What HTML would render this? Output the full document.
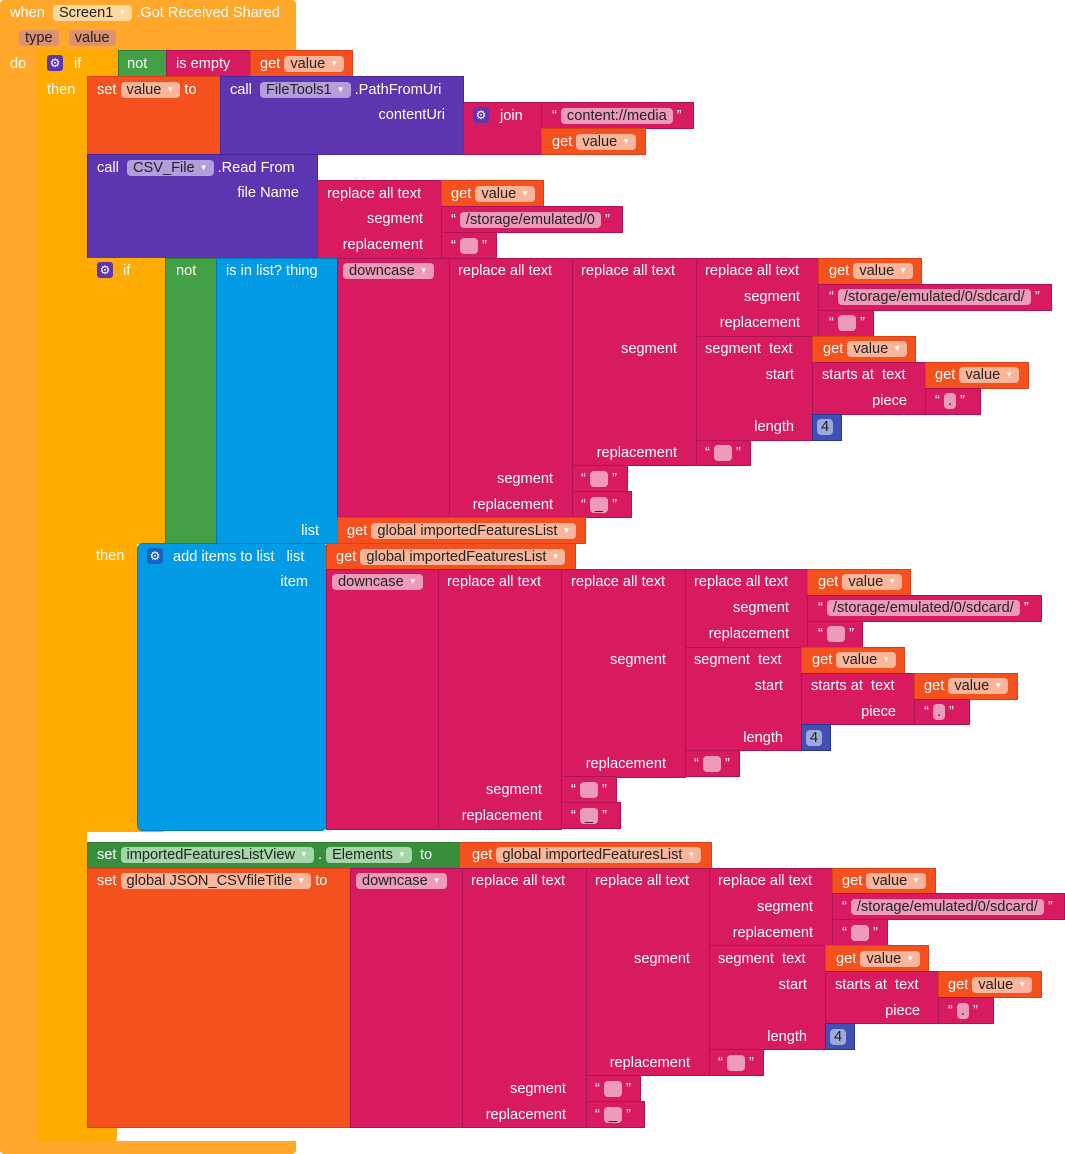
<!DOCTYPE html>
<html><head><meta charset="utf-8"><style>
body{margin:0;width:1065px;height:1154px;background:#fff;position:relative;overflow:hidden;font-family:"Liberation Sans",sans-serif}
.b{position:absolute;box-sizing:border-box}
.e{background:#FFA82B}.i{background:#FFAB00}.s{background:#F4511E;border:1px solid #D84315}
.p{background:#5E35B1;border:1px solid #4527A0}.m{background:#D81B60;border:1px solid #AD1457}
.g{background:#43A047;border:1px solid #2E7D32}.l{background:#039BE5;border:1px solid #0277BD}.n{background:#3F51B5;border:1px solid #283593}
.t{position:absolute;color:#fff;font-size:14.6px;line-height:16px;white-space:nowrap}
.r{text-align:right}
.f{display:inline-block;border-radius:4px;padding:0 6px;color:#222;line-height:16px}
.fs{background:#FBB59B}.fp{background:#B39DDB}.fm{background:#EE9BBA}.fg{background:#A5D6A7}.fe{background:#DC9173}.fn{background:#9FA8DA}
.gear{position:absolute;width:16px;height:16px;border-radius:3px;background:#5E35B1;color:#fff;font-size:12px;line-height:16px;text-align:center}
.dd{font-size:8px;color:#fff;margin-left:5px;vertical-align:2px}
</style></head><body>
<!-- event -->
<div class="b e" style="left:0;top:0;width:296px;height:52px;border-radius:4px 4px 0 0"></div>
<div class="b e" style="left:0;top:50px;width:38px;height:1100px"></div>
<div class="b e" style="left:0;top:1141px;width:296px;height:13px;border-radius:0 0 4px 4px"></div>
<div class="t" style="left:10px;top:5px">when <span class="f" style="background:#FFD8A0;margin-left:4px">Screen1<span class="dd">▼</span></span> .Got Received Shared</div>
<div class="t" style="left:19px;top:30px"><span class="f fe">type</span> <span class="f fe" style="margin-left:6px">value</span></div>
<div class="t" style="left:10px;top:56px">do</div>
<!-- if -->
<div class="b i" style="left:37px;top:50px;width:82px;height:27px;border-radius:4px 0 0 0"></div>
<div class="b i" style="left:37px;top:76px;width:50px;height:1054px"></div>
<div class="b i" style="left:37px;top:1128px;width:80px;height:14px;border-radius:0 0 4px 4px"></div>
<div class="gear" style="left:47px;top:55px">⚙</div>
<div class="t" style="left:74px;top:56px">if</div>
<div class="t" style="left:47px;top:82px">then</div>
<div class="b g" style="left:118px;top:50px;width:49px;height:27px"></div>
<div class="t" style="left:127px;top:56px">not</div>
<div class="b m" style="left:166px;top:50px;width:85px;height:27px"></div>
<div class="t" style="left:176px;top:56px">is empty</div>
<div class="b s" style="left:250px;top:50px;width:103px;height:27px"></div>
<div class="t" style="left:260px;top:56px">get <span class="f fs">value<span class="dd">▼</span></span></div>
<!-- set value -->
<div class="b s" style="left:87px;top:76px;width:134px;height:79px"></div>
<div class="t" style="left:97px;top:82px">set <span class="f fs">value<span class="dd">▼</span></span> to</div>
<div class="b p" style="left:220px;top:76px;width:244px;height:79px"></div>
<div class="t" style="left:230px;top:82px">call <span class="f fp" style="margin-left:4px">FileTools1<span class="dd">▼</span></span> .PathFromUri</div>
<div class="t r" style="right:620px;top:107px">contentUri</div>
<div class="b m" style="left:463px;top:102px;width:79px;height:53px"></div>
<div class="gear" style="left:473px;top:107px">⚙</div>
<div class="t" style="left:500px;top:108px">join</div>
<div class="b m" style="left:541px;top:102px;width:153px;height:27px"></div>
<div class="t" style="left:552px;top:108px">“ <span class="f fm">content://media</span> ”</div>
<div class="b s" style="left:541px;top:128px;width:105px;height:27px"></div>
<div class="t" style="left:552px;top:134px">get <span class="f fs">value<span class="dd">▼</span></span></div>
<!-- CSV read -->
<div class="b p" style="left:87px;top:154px;width:231px;height:105px"></div>
<div class="t" style="left:97px;top:160px">call <span class="f fp" style="margin-left:4px">CSV_File<span class="dd">▼</span></span> .Read From</div>
<div class="t r" style="right:766px;top:185px">file Name</div>
<div class="b m" style="left:317px;top:180px;width:125px;height:79px"></div>
<div class="t" style="left:327px;top:186px">replace all text</div>
<div class="t r" style="right:642px;top:211px">segment</div>
<div class="t r" style="right:642px;top:237px">replacement</div>
<div class="b s" style="left:441px;top:180px;width:103px;height:27px"></div>
<div class="t" style="left:451px;top:186px">get <span class="f fs">value<span class="dd">▼</span></span></div>
<div class="b m" style="left:441px;top:206px;width:182px;height:27px"></div>
<div class="t" style="left:451px;top:212px">“ <span class="f fm">/storage/emulated/0</span> ”</div>
<div class="b m" style="left:441px;top:232px;width:56px;height:27px"></div>
<div class="t" style="left:451px;top:238px">“ <span class="f fm" style="padding:0 7px">&nbsp;</span> ”</div>
<!-- inner if -->
<div class="b i" style="left:87px;top:258px;width:79px;height:286px"></div>
<div class="b i" style="left:87px;top:284px;width:50px;height:548px"></div>
<div class="b i" style="left:87px;top:820px;width:79px;height:12px;border-radius:0 0 4px 4px"></div>
<div class="gear" style="left:97px;top:262px">⚙</div>
<div class="t" style="left:123px;top:263px">if</div>
<div class="t" style="left:96px;top:548px">then</div>
<div class="b g" style="left:165px;top:258px;width:52px;height:286px"></div>
<div class="t" style="left:176px;top:263px">not</div>
<div class="b l" style="left:216px;top:258px;width:122px;height:286px"></div>
<div class="t" style="left:226px;top:263px">is in list? thing</div>
<div class="t r" style="right:746px;top:523px">list</div>
<div class="b m" style="left:337px;top:258px;width:113px;height:260px"></div>
<div class="t" style="left:343px;top:263px"><span class="f fm">downcase<span class="dd">▼</span></span></div>
<div class="b m" style="left:449px;top:258px;width:124px;height:260px"></div>
<div class="t" style="left:458px;top:263px">replace all text</div>
<div class="t r" style="right:512px;top:471px">segment</div>
<div class="t r" style="right:512px;top:497px">replacement</div>
<div class="b m" style="left:572px;top:258px;width:125px;height:208px"></div>
<div class="t" style="left:581px;top:263px">replace all text</div>
<div class="t r" style="right:388px;top:341px">segment</div>
<div class="t r" style="right:388px;top:445px">replacement</div>
<div class="b m" style="left:696px;top:258px;width:123px;height:79px"></div>
<div class="t" style="left:705px;top:263px">replace all text</div>
<div class="t r" style="right:265px;top:289px">segment</div>
<div class="t r" style="right:265px;top:315px">replacement</div>
<div class="b s" style="left:818px;top:258px;width:104px;height:27px"></div>
<div class="t" style="left:829px;top:263px">get <span class="f fs">value<span class="dd">▼</span></span></div>
<div class="b m" style="left:818px;top:284px;width:234px;height:27px"></div>
<div class="t" style="left:829px;top:289px">“ <span class="f fm">/storage/emulated/0/sdcard/</span> ”</div>
<div class="b m" style="left:818px;top:310px;width:56px;height:27px"></div>
<div class="t" style="left:829px;top:315px">“ <span class="f fm" style="padding:0 7px">&nbsp;</span> ”</div>
<div class="b m" style="left:696px;top:336px;width:117px;height:105px"></div>
<div class="t" style="left:705px;top:341px">segment &nbsp;text</div>
<div class="t r" style="right:271px;top:367px">start</div>
<div class="t r" style="right:271px;top:419px">length</div>
<div class="b s" style="left:812px;top:336px;width:104px;height:27px"></div>
<div class="t" style="left:823px;top:341px">get <span class="f fs">value<span class="dd">▼</span></span></div>
<div class="b m" style="left:812px;top:362px;width:114px;height:53px"></div>
<div class="t" style="left:822px;top:367px">starts at &nbsp;text</div>
<div class="t r" style="right:158px;top:393px">piece</div>
<div class="b s" style="left:925px;top:362px;width:104px;height:27px"></div>
<div class="t" style="left:935px;top:367px">get <span class="f fs">value<span class="dd">▼</span></span></div>
<div class="b m" style="left:925px;top:388px;width:56px;height:27px"></div>
<div class="t" style="left:935px;top:393px">“ <span class="f fm" style="padding:0 4px">.</span> ”</div>
<div class="b n" style="left:812px;top:414px;width:30px;height:27px"></div>
<div class="t" style="left:817px;top:419px"><span class="f fn" style="padding:0 4px">4</span></div>
<div class="b m" style="left:696px;top:440px;width:55px;height:26px"></div>
<div class="t" style="left:705px;top:445px">“ <span class="f fm" style="padding:0 7px">&nbsp;</span> ”</div>
<div class="b m" style="left:572px;top:465px;width:56px;height:27px"></div>
<div class="t" style="left:581px;top:471px">“ <span class="f fm" style="padding:0 7px">&nbsp;</span> ”</div>
<div class="b m" style="left:572px;top:491px;width:60px;height:27px"></div>
<div class="t" style="left:581px;top:497px">“ <span class="f fm" style="padding:0 5px">_</span> ”</div>
<div class="b s" style="left:337px;top:517px;width:249px;height:27px"></div>
<div class="t" style="left:347px;top:523px">get <span class="f fs">global importedFeaturesList<span class="dd">▼</span></span></div>
<!-- add items -->
<div class="b l" style="left:137px;top:543px;width:190px;height:288px;border-radius:6px"></div>
<div class="gear" style="left:147px;top:548px;background:#1565C0">⚙</div>
<div class="t" style="left:173px;top:549px">add items to list &nbsp;&nbsp;list</div>
<div class="t r" style="right:757px;top:574px">item</div>
<div class="b s" style="left:326px;top:543px;width:250px;height:27px"></div>
<div class="t" style="left:336px;top:549px">get <span class="f fs">global importedFeaturesList<span class="dd">▼</span></span></div>
<div class="b m" style="left:326px;top:569px;width:113px;height:261px"></div>
<div class="t" style="left:332px;top:574px"><span class="f fm">downcase<span class="dd">▼</span></span></div>
<div class="b m" style="left:438px;top:569px;width:124px;height:261px"></div>
<div class="t" style="left:447px;top:574px">replace all text</div>
<div class="t r" style="right:523px;top:782px">segment</div>
<div class="t r" style="right:523px;top:808px">replacement</div>
<div class="b m" style="left:561px;top:569px;width:125px;height:209px"></div>
<div class="t" style="left:571px;top:574px">replace all text</div>
<div class="t r" style="right:399px;top:652px">segment</div>
<div class="t r" style="right:399px;top:756px">replacement</div>
<div class="b m" style="left:685px;top:569px;width:123px;height:79px"></div>
<div class="t" style="left:694px;top:574px">replace all text</div>
<div class="t r" style="right:276px;top:600px">segment</div>
<div class="t r" style="right:276px;top:626px">replacement</div>
<div class="b s" style="left:807px;top:569px;width:104px;height:27px"></div>
<div class="t" style="left:818px;top:574px">get <span class="f fs">value<span class="dd">▼</span></span></div>
<div class="b m" style="left:807px;top:595px;width:235px;height:27px"></div>
<div class="t" style="left:818px;top:600px">“ <span class="f fm">/storage/emulated/0/sdcard/</span> ”</div>
<div class="b m" style="left:807px;top:621px;width:56px;height:27px"></div>
<div class="t" style="left:818px;top:626px">“ <span class="f fm" style="padding:0 7px">&nbsp;</span> ”</div>
<div class="b m" style="left:685px;top:647px;width:117px;height:104px"></div>
<div class="t" style="left:694px;top:652px">segment &nbsp;text</div>
<div class="t r" style="right:282px;top:678px">start</div>
<div class="t r" style="right:282px;top:730px">length</div>
<div class="b s" style="left:801px;top:647px;width:104px;height:27px"></div>
<div class="t" style="left:812px;top:652px">get <span class="f fs">value<span class="dd">▼</span></span></div>
<div class="b m" style="left:801px;top:673px;width:114px;height:52px"></div>
<div class="t" style="left:811px;top:678px">starts at &nbsp;text</div>
<div class="t r" style="right:169px;top:704px">piece</div>
<div class="b s" style="left:914px;top:673px;width:104px;height:27px"></div>
<div class="t" style="left:924px;top:678px">get <span class="f fs">value<span class="dd">▼</span></span></div>
<div class="b m" style="left:914px;top:699px;width:56px;height:26px"></div>
<div class="t" style="left:924px;top:704px">“ <span class="f fm" style="padding:0 4px">.</span> ”</div>
<div class="b n" style="left:801px;top:724px;width:30px;height:27px"></div>
<div class="t" style="left:806px;top:730px"><span class="f fn" style="padding:0 4px">4</span></div>
<div class="b m" style="left:685px;top:750px;width:55px;height:27px"></div>
<div class="t" style="left:694px;top:756px">“ <span class="f fm" style="padding:0 7px">&nbsp;</span> ”</div>
<div class="b m" style="left:561px;top:776px;width:56px;height:27px"></div>
<div class="t" style="left:571px;top:782px">“ <span class="f fm" style="padding:0 7px">&nbsp;</span> ”</div>
<div class="b m" style="left:561px;top:802px;width:60px;height:27px"></div>
<div class="t" style="left:571px;top:808px">“ <span class="f fm" style="padding:0 5px">_</span> ”</div>
<!-- set elements -->
<div class="b g" style="left:87px;top:842px;width:373px;height:27px;background:#388E3C"></div>
<div class="t" style="left:97px;top:847px">set <span class="f fg">importedFeaturesListView<span class="dd">▼</span></span> . <span class="f fg">Elements<span class="dd">▼</span></span> &nbsp;to</div>
<div class="b s" style="left:459px;top:842px;width:253px;height:27px"></div>
<div class="t" style="left:472px;top:847px">get <span class="f fs">global importedFeaturesList<span class="dd">▼</span></span></div>
<!-- set global -->
<div class="b s" style="left:87px;top:868px;width:264px;height:260px"></div>
<div class="t" style="left:97px;top:873px">set <span class="f fs">global JSON_CSVfileTitle<span class="dd">▼</span></span> to</div>
<div class="b m" style="left:350px;top:868px;width:113px;height:260px"></div>
<div class="t" style="left:356px;top:873px"><span class="f fm">downcase<span class="dd">▼</span></span></div>
<div class="b m" style="left:462px;top:868px;width:125px;height:260px"></div>
<div class="t" style="left:471px;top:873px">replace all text</div>
<div class="t r" style="right:499px;top:1081px">segment</div>
<div class="t r" style="right:499px;top:1107px">replacement</div>
<div class="b m" style="left:586px;top:868px;width:124px;height:208px"></div>
<div class="t" style="left:595px;top:873px">replace all text</div>
<div class="t r" style="right:375px;top:951px">segment</div>
<div class="t r" style="right:375px;top:1055px">replacement</div>
<div class="b m" style="left:709px;top:868px;width:124px;height:78px"></div>
<div class="t" style="left:718px;top:873px">replace all text</div>
<div class="t r" style="right:252px;top:899px">segment</div>
<div class="t r" style="right:252px;top:925px">replacement</div>
<div class="b s" style="left:832px;top:868px;width:104px;height:26px"></div>
<div class="t" style="left:842px;top:873px">get <span class="f fs">value<span class="dd">▼</span></span></div>
<div class="b m" style="left:832px;top:893px;width:233px;height:27px"></div>
<div class="t" style="left:842px;top:899px">“ <span class="f fm">/storage/emulated/0/sdcard/</span> ”</div>
<div class="b m" style="left:832px;top:919px;width:56px;height:27px"></div>
<div class="t" style="left:842px;top:925px">“ <span class="f fm" style="padding:0 7px">&nbsp;</span> ”</div>
<div class="b m" style="left:709px;top:945px;width:117px;height:105px"></div>
<div class="t" style="left:718px;top:951px">segment &nbsp;text</div>
<div class="t r" style="right:258px;top:977px">start</div>
<div class="t r" style="right:258px;top:1029px">length</div>
<div class="b s" style="left:825px;top:945px;width:104px;height:27px"></div>
<div class="t" style="left:836px;top:951px">get <span class="f fs">value<span class="dd">▼</span></span></div>
<div class="b m" style="left:825px;top:971px;width:114px;height:53px"></div>
<div class="t" style="left:835px;top:977px">starts at &nbsp;text</div>
<div class="t r" style="right:145px;top:1003px">piece</div>
<div class="b s" style="left:938px;top:971px;width:104px;height:27px"></div>
<div class="t" style="left:948px;top:977px">get <span class="f fs">value<span class="dd">▼</span></span></div>
<div class="b m" style="left:938px;top:997px;width:56px;height:27px"></div>
<div class="t" style="left:948px;top:1003px">“ <span class="f fm" style="padding:0 4px">.</span> ”</div>
<div class="b n" style="left:825px;top:1023px;width:30px;height:27px"></div>
<div class="t" style="left:830px;top:1029px"><span class="f fn" style="padding:0 4px">4</span></div>
<div class="b m" style="left:709px;top:1049px;width:55px;height:27px"></div>
<div class="t" style="left:718px;top:1055px">“ <span class="f fm" style="padding:0 7px">&nbsp;</span> ”</div>
<div class="b m" style="left:586px;top:1075px;width:55px;height:27px"></div>
<div class="t" style="left:595px;top:1081px">“ <span class="f fm" style="padding:0 7px">&nbsp;</span> ”</div>
<div class="b m" style="left:586px;top:1101px;width:59px;height:27px"></div>
<div class="t" style="left:595px;top:1107px">“ <span class="f fm" style="padding:0 5px">_</span> ”</div>
</body></html>
